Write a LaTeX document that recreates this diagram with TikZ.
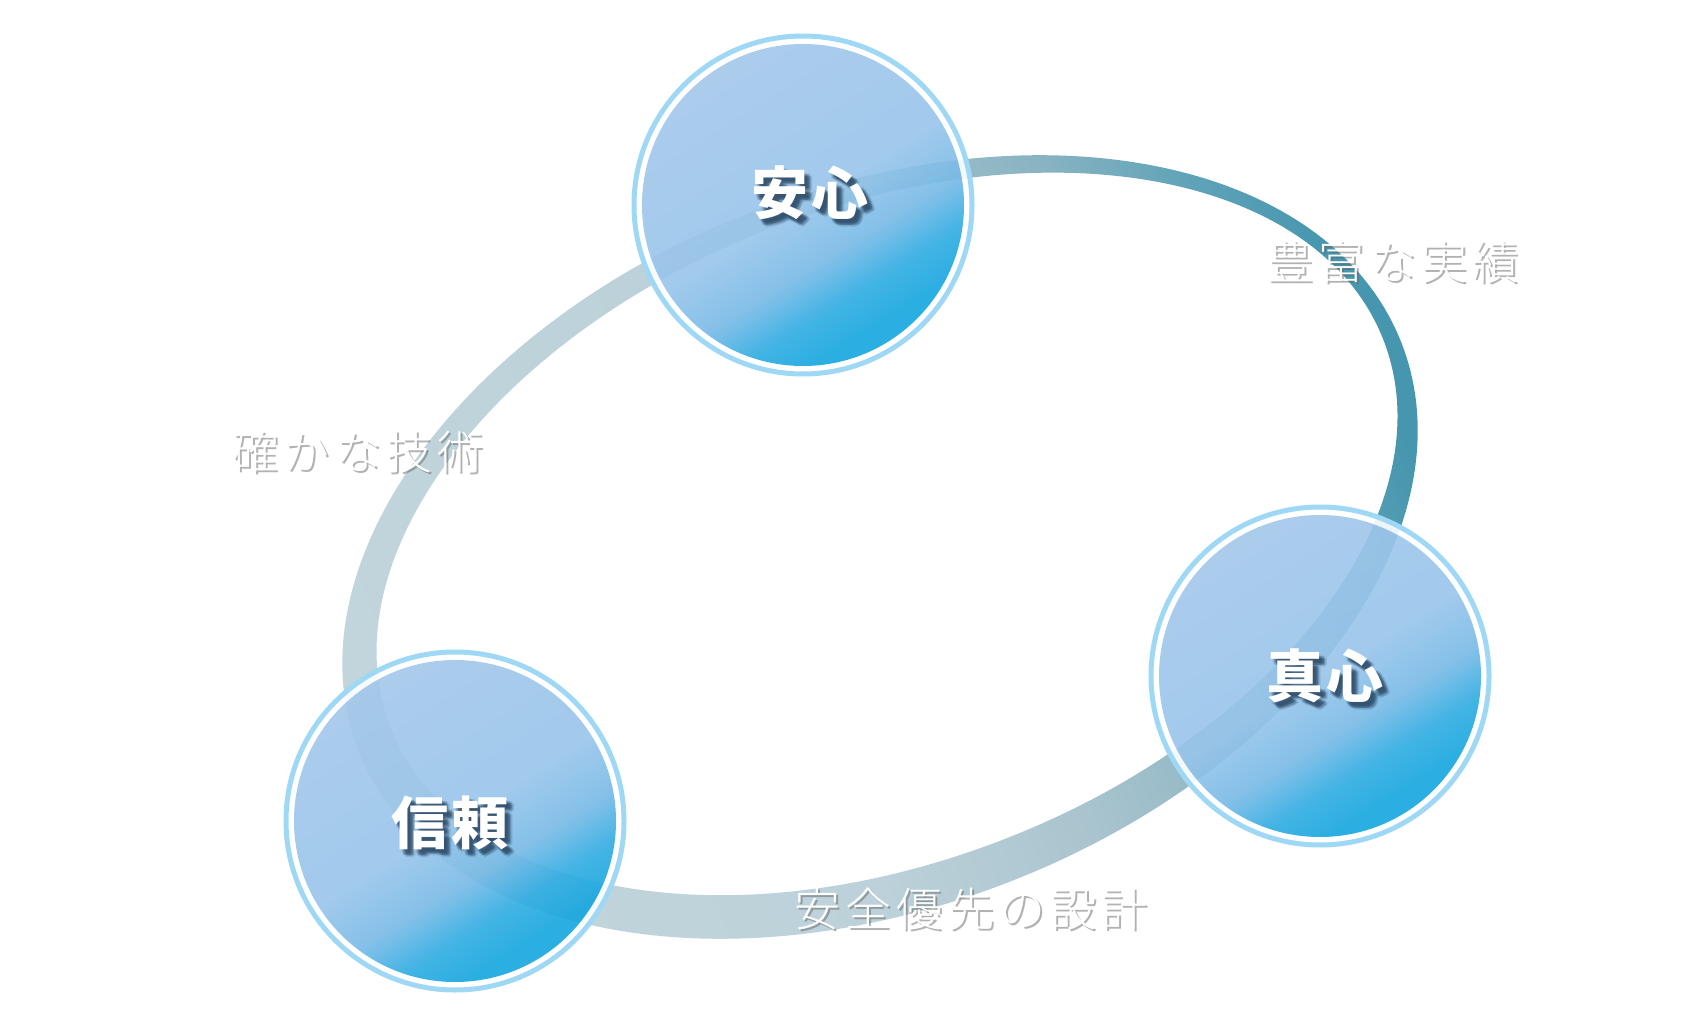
\documentclass[tikz,border=0pt]{standalone}
\usepackage{fontspec}
\usepackage{tikz}
\usetikzlibrary{positioning}
\newfontfamily\jpfont{Noto Sans CJK JP}
\newfontfamily\jpthin{Noto Sans CJK JP Light}
\definecolor{ring0}{HTML}{C2D5DC}
\definecolor{ring1}{HTML}{BCD1D9}
\definecolor{ring2}{HTML}{A9C4CE}
\definecolor{ring3}{HTML}{88B3C2}
\definecolor{ring4}{HTML}{5FA3B8}
\definecolor{ring5}{HTML}{4596AE}
\definecolor{ball0}{HTML}{A3C7EB}
\definecolor{ball1}{HTML}{98C5EA}
\definecolor{ball2}{HTML}{78BAE7}
\definecolor{ball3}{HTML}{2EACE2}
\definecolor{ball4}{HTML}{15A6DF}
\definecolor{rim}{HTML}{9FD8F5}
\definecolor{shadowblue}{HTML}{233F5A}
\pgfdeclarehorizontalshading{ringshade}{100bp}{color(0bp)=(ring0); color(25bp)=(ring0); color(45bp)=(ring1); color(55bp)=(ring2); color(64bp)=(ring3); color(70bp)=(ring4); color(75bp)=(ring5); color(100bp)=(ring5)}
\pgfdeclarehorizontalshading{ballshade}{100bp}{color(0bp)=(ball0); color(25bp)=(ball0); color(50bp)=(ball1); color(59bp)=(ball2); color(66bp)=(ball3); color(72bp)=(ball4); color(100bp)=(ball4)}

\begin{document}
\begin{tikzpicture}[x=1pt,y=-1pt,
  ball/.style={circle,minimum size=322pt,inner sep=0pt,shade,shading=ballshade,shading angle=-58,fill opacity=0.9},
  halo/.style={draw=white,line width=7pt,opacity=0.9},
  edge/.style={draw=rim,line width=5pt},
  balltext/.style={text=white,inner sep=0pt,font=\jpfont\bfseries\fontsize{57}{60}\selectfont\addfontfeature{LetterSpace=7}},
  ballshadow/.style={balltext,text=shadowblue,text opacity=0.12},
  tag/.style={text=white,inner sep=0pt,font=\jpthin\fontsize{46}{50}\selectfont\addfontfeature{LetterSpace=11}},
  tagshadow/.style={tag,text=black!60,text opacity=0.5}]
\fill[white] (0,0) rectangle (1700,1024);
% tilted loop
\path[shade,shading=ringshade,shading angle=21,even odd rule,rotate around={21.4:(880,547)}]
  (880,547) ellipse [x radius=560,y radius=359]
  (891.3,537.4) ellipse [x radius=533,y radius=327];
% three discs
\foreach \nm/\x/\y/\lx/\ly/\word in {anshin/803/205/810/193/安心,shinshin/1320/676/1325/676/真心,shinrai/455/821/450/823/信頼}{
  \draw[halo] (\x,\y) circle[radius=164];
  \draw[edge] (\x,\y) circle[radius=169];
  \node[ball] (\nm) at (\x,\y) {};
  \foreach \dx/\dy [count=\k] in {3/4,5/4,4/6,6/6,4/5,5/6,3/6,6/4,5/5,7/7,2/3,8/6,6/8}
    \node[ballshadow] (\nm-s\k) at (\lx+\dx,\ly+\dy) {\word};
  \node[balltext] (\nm-t) at (\lx,\ly) {\word};
}
% outer words
\foreach \nm/\x/\y/\word in {jisseki/1393/262/豊富な実績,gijutsu/358/452/確かな技術,sekkei/971/909/安全優先の設計}{
  \node[tagshadow] (\nm-s) at (\x+2,\y+2) {\word};
  \node[tag] (\nm) at (\x,\y) {\word};
}
\end{tikzpicture}
\end{document}
